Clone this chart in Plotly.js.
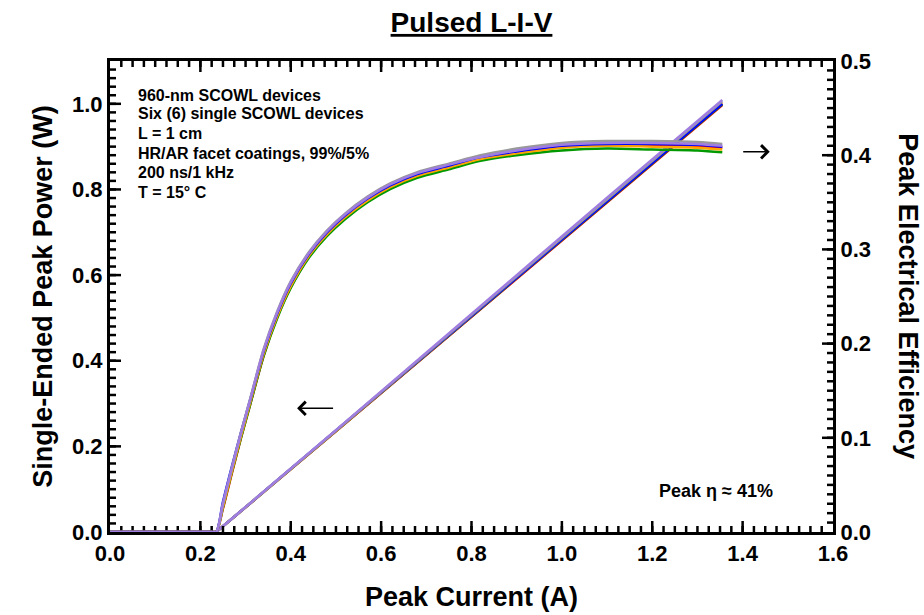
<!DOCTYPE html>
<html>
<head>
<meta charset="utf-8">
<script src="https://cdn.plot.ly/plotly-3.0.1.min.js"></script>
<style>html,body{margin:0;padding:0;background:#fff;}#chart{width:924px;height:615px;}</style>
</head>
<body>
<div id="chart"></div>
<script>
// Peak current (A) sample points
const currentLI = [0, 0.235, 0.50, 0.80, 1.10, 1.355];
const currentEta = [0, 0.225, 0.235, 0.25, 0.27, 0.29, 0.31, 0.34, 0.37, 0.40, 0.44, 0.48, 0.52, 0.57, 0.62, 0.68, 0.75, 0.82, 0.90, 1.00, 1.10, 1.20, 1.30, 1.355];

const deviceNames = ["Red", "Green", "Orange", "Blue", "Grey", "Purple"];
const deviceColors = ["#ff0000", "#009900", "#ffa500", "#0000ff", "#999999", "#a07ee0"];

// Single-ended peak power (W)
const powerRed    = [0, 0, 0.235, 0.503, 0.771, 0.997];
const powerGreen  = [0, 0, 0.236, 0.504, 0.773, 0.999];
const powerOrange = [0, 0, 0.236, 0.505, 0.775, 1.002];
const powerBlue   = [0, 0, 0.237, 0.505, 0.774, 1.000];
const powerGrey   = [0, 0, 0.237, 0.507, 0.778, 1.006];
const powerPurple = [0, 0, 0.238, 0.509, 0.781, 1.009];

// Peak electrical efficiency
const etaRed    = [0, 0, 0, 0.025, 0.063, 0.100, 0.135, 0.187, 0.228, 0.260, 0.292, 0.315, 0.334, 0.352, 0.366, 0.378, 0.388, 0.397, 0.403, 0.409, 0.411, 0.411, 0.410, 0.408];
const etaGreen  = [0, 0, 0, 0.026, 0.064, 0.100, 0.135, 0.187, 0.227, 0.259, 0.291, 0.314, 0.332, 0.350, 0.364, 0.376, 0.385, 0.394, 0.400, 0.405, 0.407, 0.406, 0.405, 0.403];
const etaOrange = [0, 0, 0, 0.027, 0.065, 0.102, 0.137, 0.189, 0.229, 0.261, 0.293, 0.316, 0.334, 0.352, 0.366, 0.378, 0.387, 0.396, 0.402, 0.408, 0.410, 0.409, 0.408, 0.406];
const etaBlue   = [0, 0, 0, 0.032, 0.070, 0.106, 0.140, 0.192, 0.232, 0.264, 0.295, 0.318, 0.336, 0.354, 0.368, 0.380, 0.389, 0.398, 0.404, 0.410, 0.412, 0.412, 0.411, 0.409];
const etaGrey   = [0, 0, 0, 0.030, 0.069, 0.106, 0.141, 0.194, 0.234, 0.266, 0.297, 0.320, 0.338, 0.356, 0.370, 0.382, 0.391, 0.400, 0.407, 0.413, 0.415, 0.415, 0.414, 0.412];
const etaPurple = [0, 0, 0, 0.030, 0.068, 0.105, 0.140, 0.193, 0.233, 0.265, 0.296, 0.319, 0.337, 0.355, 0.369, 0.381, 0.390, 0.398, 0.405, 0.411, 0.413, 0.413, 0.412, 0.410];

const infoLines = ["960-nm SCOWL devices", "Six (6) single SCOWL devices", "L = 1 cm", "HR/AR facet coatings, 99%/5%", "200 ns/1 kHz", "T = 15° C"];

const powers = [powerRed, powerGreen, powerOrange, powerBlue, powerGrey, powerPurple];
const etas = [etaRed, etaGreen, etaOrange, etaBlue, etaGrey, etaPurple];

const FONT = "Liberation Sans, Arial, sans-serif";
const X_MAX = 1.6, P_MAX = 1.1, ETA_MAX = 0.5;
const PLOT_W = 723, PLOT_H = 471;

const traces = [];
for (let i = 0; i < deviceNames.length; i++) {
  traces.push({
    x: currentLI, y: powers[i], type: "scatter", mode: "lines",
    name: deviceNames[i] + " power", yaxis: "y", hoverinfo: "skip",
    line: {color: deviceColors[i], width: 2.5}
  });
}
for (let i = 0; i < deviceNames.length; i++) {
  traces.push({
    x: currentEta, y: etas[i], type: "scatter", mode: "lines",
    name: deviceNames[i] + " efficiency", yaxis: "y2", hoverinfo: "skip",
    line: {color: deviceColors[i], width: 2.5, shape: "spline", smoothing: 0.8}
  });
}

// Inward tick marks built from the axis steps (major + minor)
function tickTrace(yaxis, xs, ys) {
  return {x: xs, y: ys, type: "scatter", mode: "lines", yaxis: yaxis, hoverinfo: "skip",
          showlegend: false, line: {color: "#000", width: 2.5}};
}
function xTickMarks(step, len) {
  const xs = [], ys = [];
  const n = Math.round(X_MAX / step);
  const d = len / PLOT_H * P_MAX;
  for (let k = 1; k < n; k++) {
    const v = k * step;
    xs.push(v, v, null, v, v, null);
    ys.push(0, d, null, P_MAX, P_MAX - d, null);
  }
  return tickTrace("y", xs, ys);
}
function yTickMarks(yaxis, max, step, side, len) {
  const xs = [], ys = [];
  const n = Math.round(max / step);
  const d = len / PLOT_W * X_MAX;
  const x0 = side === "left" ? 0 : X_MAX;
  const x1 = side === "left" ? d : X_MAX - d;
  for (let k = 1; k < n; k++) {
    const v = k * step;
    xs.push(x0, x1, null);
    ys.push(v, v, null);
  }
  return tickTrace(yaxis, xs, ys);
}
traces.push(
  xTickMarks(0.025, 6), xTickMarks(0.2, 11),
  yTickMarks("y", P_MAX, 0.02, "left", 6), yTickMarks("y", P_MAX, 0.2, "left", 11),
  yTickMarks("y2", ETA_MAX, 0.01, "right", 6), yTickMarks("y2", ETA_MAX, 0.1, "right", 11)
);

const tickFont = {family: FONT, size: 22, color: "#000", weight: "bold"};
const titleFont = {family: FONT, size: 27, color: "#000", weight: "bold"};

const annotations = [];
const infoTop = [94, 113, 132, 152, 172, 191];
for (let i = 0; i < infoLines.length; i++) {
  annotations.push({
    xref: "paper", yref: "paper", x: 0.036, y: (532 - infoTop[i] - 1) / 471,
    xanchor: "left", yanchor: "middle", align: "left", showarrow: false,
    text: infoLines[i], font: {family: FONT, size: 16, color: "#000", weight: "bold"}
  });
}
annotations.push(
  {
    xref: "paper", yref: "paper", x: 0.838, y: 0.087, xanchor: "center", yanchor: "middle",
    showarrow: false, text: "Peak η ≈ 41%",
    font: {family: FONT, size: 18, color: "#000", weight: "bold"}
  },
  {
    xref: "paper", yref: "paper", x: 1.104, y: 0.5, xanchor: "center", yanchor: "middle",
    showarrow: false, textangle: 90, text: "Peak Electrical Efficiency",
    font: titleFont
  },
  {
    xref: "x", yref: "y", x: 0.414, y: 0.289, axref: "x", ayref: "y", ax: 0.497, ay: 0.289,
    text: "", showarrow: true, arrowhead: 4, arrowsize: 1.6, arrowwidth: 1.6, arrowcolor: "#000"
  },
  {
    xref: "x", yref: "y", x: 1.46, y: 0.888, axref: "x", ayref: "y", ax: 1.398, ay: 0.888,
    text: "", showarrow: true, arrowhead: 4, arrowsize: 1.6, arrowwidth: 1.6, arrowcolor: "#000"
  }
);

const layout = {
  width: 924, height: 615,
  margin: {l: 110, r: 91, t: 61, b: 83},
  paper_bgcolor: "#ffffff", plot_bgcolor: "#ffffff",
  showlegend: false,
  title: {
    text: "Pulsed L-I-V",
    font: {family: FONT, size: 28, color: "#000", weight: "bold", lineposition: "under"},
    x: 0.5, xref: "paper", y: 0.964, yref: "container", yanchor: "middle"
  },
  xaxis: {
    range: [0, X_MAX], dtick: 0.2, tickformat: ".1f", ticks: "",
    showline: true, linewidth: 3, linecolor: "#000", mirror: true,
    showgrid: false, zeroline: false, tickfont: tickFont,
    title: {text: "Peak Current (A)", font: titleFont, standoff: 22}
  },
  yaxis: {
    range: [0, P_MAX], dtick: 0.2, tickformat: ".1f", ticks: "",
    showline: true, linewidth: 3, linecolor: "#000",
    showgrid: false, zeroline: false, tickfont: tickFont,
    title: {text: "Single-Ended Peak Power (W)", font: titleFont, standoff: 12}
  },
  yaxis2: {
    overlaying: "y", side: "right",
    range: [0, ETA_MAX], dtick: 0.1, tickformat: ".1f", ticks: "",
    showline: true, linewidth: 3, linecolor: "#000",
    showgrid: false, zeroline: false, tickfont: tickFont
  },
  annotations: annotations
};

Plotly.newPlot("chart", traces, layout, {displayModeBar: false});
</script>
</body>
</html>
